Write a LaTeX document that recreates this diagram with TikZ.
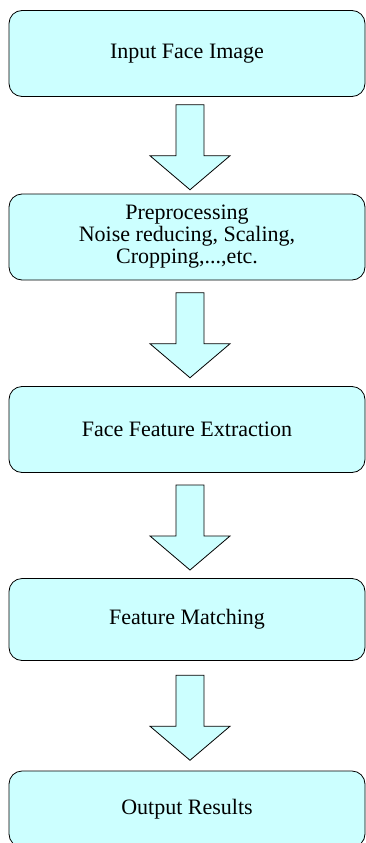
\documentclass[tikz,border=0pt]{standalone}
\usepackage{fontspec}
\setmainfont{Liberation Serif}
\usetikzlibrary{calc}
\definecolor{paleblue}{HTML}{CCFFFF}

\begin{document}
\begin{tikzpicture}
  [x=1pt,y=1pt,
   stage/.style={draw,line width=0.8pt,rounded corners=13pt,fill=paleblue,
     minimum width=356pt,minimum height=86pt,align=center,inner sep=2pt,
     font=\fontsize{22}{22}\selectfont},
   blockarrow/.style={draw,line width=0.8pt,fill=paleblue,line join=miter}]
  \useasboundingbox (0,0) rectangle (366,-843);

  \node[stage] (input) at (187,-53.5) {Input Face Image};
  \node[stage] (prep)  at (187,-237)  {Preprocessing\\Noise reducing, Scaling,\\Cropping,...,etc.};
  \node[stage] (feat)  at (187,-429.5) {Face Feature Extraction};
  \node[stage,minimum height=82pt] (match) at (187,-619.5) {Feature Matching};
  \node[stage,minimum height=76pt] (out)   at (187,-809)  {Output Results};

  \foreach \from/\to in {input/prep,prep/feat,feat/match,match/out}
  {
    \coordinate (mid) at ($(\from.south)!0.5!(\to.north)+(3,-2)$);
    \draw[blockarrow] (mid) ++(-14,42.5) -- ++(28,0) -- ++(0,-51) -- ++(26,0)
      -- ++(-40,-34) -- ++(-40,34) -- ++(26,0) -- cycle;
  }
\end{tikzpicture}
\end{document}
